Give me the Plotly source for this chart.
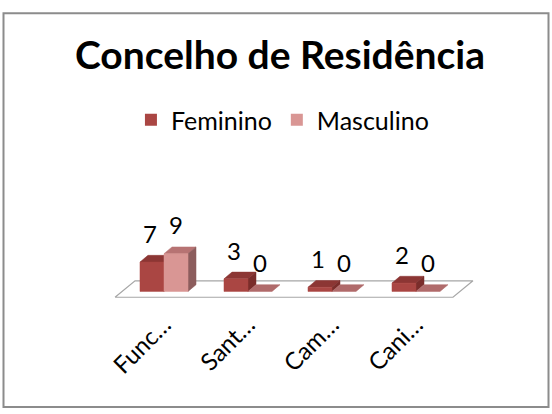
import plotly.graph_objects as go

# ---- data ----
categories = ["Func…", "Sant…", "Cam…", "Cani…"]
feminino = [7, 3, 1, 2]
masculino = [9, 0, 0, 0]
series_names = ["Feminino", "Masculino"]
title_text = "Concelho de Residência"

# ---- layout geometry ----
W, H = 552, 414
L, R, T, B = 101, 73, 150, 109
PW, PH = W - L - R, H - T - B
x_range = [-0.75, 3.75]
y_range = [-3.23, 32.54]
ux = (x_range[1] - x_range[0]) / PW   # data units per px
uy = (y_range[1] - y_range[0]) / PH

bar_w = 0.286
dx, dy = 8 * ux, 7 * uy               # bar depth
fdx, fdy = 20 * ux, 17 * uy           # floor depth
floor_front = -6 * uy

FONT = "Lato"
colors = {
    "Feminino": {"front": "#AA4643", "top": "#8C3634", "side": "#7A2D2B"},
    "Masculino": {"front": "#D99694", "top": "#B77373", "side": "#8C5D5D"},
}

fig = go.Figure()

# floor
n = len(categories)
fx0, fx1 = -0.583, (n - 1) + 0.44
fig.add_trace(go.Scatter(
    x=[fx0, fx1, fx1 + fdx, fx0 + fdx, fx0],
    y=[floor_front, floor_front, floor_front + fdy, floor_front + fdy, floor_front],
    mode="lines", fill="toself", fillcolor="white",
    line=dict(color="#A6A6A6", width=1.2), hoverinfo="skip", showlegend=False))

# legend / data bars (front faces)
for name, vals in zip(series_names, [feminino, masculino]):
    fig.add_trace(go.Bar(x=list(range(n)), y=vals, name=name,
                         marker=dict(color=colors[name]["front"], line=dict(width=0)),
                         hoverinfo="skip"))

def poly(xs, ys, color):
    fig.add_trace(go.Scatter(x=xs + [xs[0]], y=ys + [ys[0]], mode="lines",
                             fill="toself", fillcolor=color,
                             line=dict(color=color, width=0.5),
                             hoverinfo="skip", showlegend=False))

annotations = []
for i in range(n):
    for k, (name, vals) in enumerate(zip(series_names, [feminino, masculino])):
        v = vals[i]
        x0 = i - bar_w + k * bar_w
        x1 = x0 + bar_w
        c = colors[name]
        # top face
        poly([x0, x1, x1 + dx, x0 + dx], [v, v, v + dy, v + dy],
             c["top"] if v > 0 else "#B06B6B")
        if v > 0:
            # side face
            poly([x1, x1 + dx, x1 + dx, x1], [0, dy, v + dy, v], c["side"])
            # front face
            poly([x0, x1, x1, x0], [0, 0, v, v], c["front"])
        annotations.append(dict(x=(x0 + x1) / 2, y=v + dy, text=str(v),
                                showarrow=False, yanchor="middle", yshift=22,
                                xshift=-2 if k == 0 else 0,
                                font=dict(family=FONT, size=24, color="black")))

# border around chart area
def px_to_paper_x(px):
    return (px - L) / PW

def px_to_paper_y(py):
    return (H - B - py) / PH

fig.add_shape(type="rect", xref="paper", yref="paper",
              x0=px_to_paper_x(3.5), x1=px_to_paper_x(548.5),
              y0=px_to_paper_y(410.5), y1=px_to_paper_y(3.5),
              line=dict(color="#8C8C8C", width=2), layer="below")

fig.update_layout(
    width=W, height=H,
    margin=dict(l=L, r=R, t=T, b=B),
    paper_bgcolor="white", plot_bgcolor="white",
    barmode="group", bargap=1 - 2 * bar_w, bargroupgap=0,
    title=dict(text="<b>" + title_text + "</b>", x=280 / W, xref="container",
               xanchor="center", y=1 - 55 / H, yanchor="middle",
               font=dict(family=FONT, size=39, color="black")),
    legend=dict(orientation="h", x=0.48, xanchor="center", xref="paper",
                y=1 - 120 / H, yref="container", yanchor="middle",
                font=dict(family=FONT, size=25, color="black"),
                itemwidth=30, traceorder="normal"),
    annotations=annotations,
    xaxis=dict(range=x_range, tickvals=list(range(n)), ticktext=categories,
               tickangle=-45, showgrid=False, zeroline=False, showline=False,
               ticks="", tickfont=dict(family=FONT, size=24, color="black")),
    yaxis=dict(range=y_range, visible=False, showgrid=False, zeroline=False),
    showlegend=True,
)

fig.write_html("out.html", config={"displayModeBar": False},
               post_script="document.body.style.margin='0';document.body.style.overflow='hidden';")
